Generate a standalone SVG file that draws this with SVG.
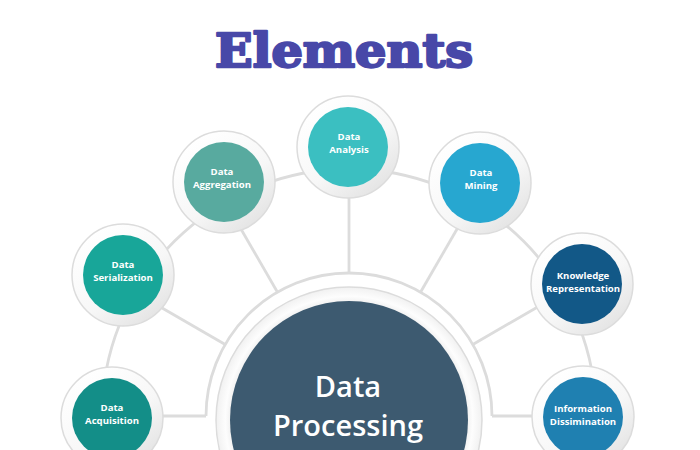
<svg xmlns="http://www.w3.org/2000/svg" width="700" height="450" viewBox="0 0 700 450">
  <defs>
    <linearGradient id="ringGrad" x1="0.2" y1="0.1" x2="0.85" y2="0.95">
      <stop offset="0" stop-color="#ffffff"/>
      <stop offset="0.55" stop-color="#f7f7f7"/>
      <stop offset="1" stop-color="#e2e2e2"/>
    </linearGradient>
    <radialGradient id="bigRing" cx="0.5" cy="0.5" r="0.5">
      <stop offset="0.87" stop-color="#ececec"/>
      <stop offset="0.93" stop-color="#fdfdfd"/>
      <stop offset="1" stop-color="#f1f1f1"/>
    </radialGradient>
  </defs>
  <style>
    .title { font-family: "DejaVu Serif", "Liberation Serif", serif; font-weight: 900; font-size: 46px; fill: #4848a8; stroke: #4848a8; stroke-width: 2.4; stroke-linejoin: round; text-anchor: middle; }
    .conn { fill: none; stroke: #dcdcdc; stroke-width: 2.8; }
    .ring { fill: url(#ringGrad); stroke: #dcdcdc; stroke-width: 1.5; }
    .lbl { font-family: "Open Sans", "Noto Sans", sans-serif; font-weight: 700; font-size: 9.6px; fill: #ffffff; text-anchor: middle; }
    .big { font-family: "Open Sans", "Noto Sans", sans-serif; font-weight: 600; font-size: 29px; fill: #ffffff; text-anchor: middle; }
  </style>
  <rect width="700" height="450" fill="#ffffff"/>
  <text class="title" x="344" y="67" textLength="258" lengthAdjust="spacingAndGlyphs">Elements</text>

  <g id="connectors">
    <path class="conn" d="M 102 416 A 247 247 0 0 1 596 416"/>
    <path class="conn" d="M 206 416 A 143 143 0 0 1 492 416"/>
    <line class="conn" x1="150" y1="416" x2="206" y2="416"/>
    <line class="conn" x1="492" y1="416" x2="545" y2="416"/>
    <line class="conn" x1="225.2" y1="344.5" x2="150" y2="301"/>
    <line class="conn" x1="277.5" y1="292.2" x2="234" y2="217"/>
    <line class="conn" x1="349" y1="273" x2="349" y2="185"/>
    <line class="conn" x1="420.5" y1="292.2" x2="464" y2="217"/>
    <line class="conn" x1="472.8" y1="344.5" x2="548" y2="301"/>
  </g>

  <g id="data-processing">
    <circle cx="349" cy="420" r="133" fill="url(#bigRing)" stroke="#dcdcdc" stroke-width="1.5"/>
    <circle cx="349" cy="420" r="119" fill="#3d5a70"/>
    <text class="big" x="348" y="397">Data</text>
    <text class="big" x="348" y="436">Processing</text>
  </g>

  <g id="data-acquisition">
    <circle class="ring" cx="112" cy="418" r="51"/>
    <circle cx="112" cy="418" r="40" fill="#138e88"/>
    <text class="lbl" x="112" y="411">Data</text>
    <text class="lbl" x="112" y="423.5">Acquisition</text>
  </g>

  <g id="data-serialization">
    <circle class="ring" cx="123" cy="275" r="51"/>
    <circle cx="123" cy="275" r="40" fill="#18a699"/>
    <text class="lbl" x="123" y="268">Data</text>
    <text class="lbl" x="123" y="280.5">Serialization</text>
  </g>

  <g id="data-aggregation">
    <circle class="ring" cx="224" cy="182" r="51"/>
    <circle cx="224" cy="182" r="40" fill="#58aa9f"/>
    <text class="lbl" x="222" y="175">Data</text>
    <text class="lbl" x="222" y="187.5">Aggregation</text>
  </g>

  <g id="data-analysis">
    <circle class="ring" cx="348" cy="147" r="51"/>
    <circle cx="348" cy="147" r="40" fill="#3bbfc1"/>
    <text class="lbl" x="349" y="140">Data</text>
    <text class="lbl" x="349" y="152.5">Analysis</text>
  </g>

  <g id="data-mining">
    <circle class="ring" cx="480" cy="183" r="51"/>
    <circle cx="480" cy="183" r="40" fill="#27a7d0"/>
    <text class="lbl" x="481" y="176">Data</text>
    <text class="lbl" x="481" y="188.5">Mining</text>
  </g>

  <g id="knowledge-representation">
    <circle class="ring" cx="582" cy="284" r="51"/>
    <circle cx="582" cy="284" r="40" fill="#125887"/>
    <text class="lbl" x="583" y="279">Knowledge</text>
    <text class="lbl" x="583" y="291.5">Representation</text>
  </g>

  <g id="information-dissimination">
    <circle class="ring" cx="583" cy="417" r="51"/>
    <circle cx="583" cy="417" r="40" fill="#1f80b1"/>
    <text class="lbl" x="583" y="412">Information</text>
    <text class="lbl" x="583" y="424.5">Dissimination</text>
  </g>
</svg>
